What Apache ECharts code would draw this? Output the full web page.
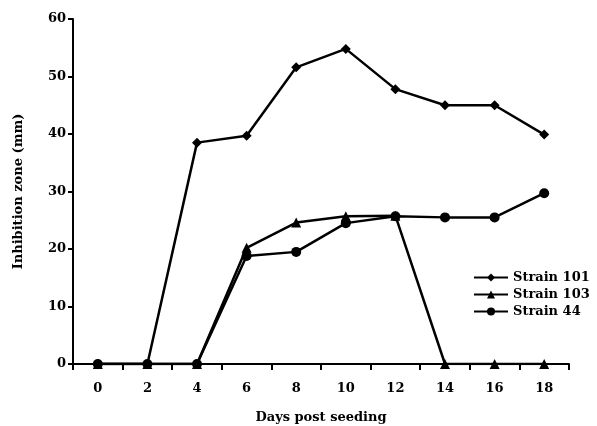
<!DOCTYPE html>
<html>
<head>
<meta charset="utf-8">
<script src="https://cdn.jsdelivr.net/npm/echarts@6/dist/echarts.min.js"></script>
<style>html,body{margin:0;padding:0;background:#fff;}#c{width:597px;height:426px;}</style>
</head>
<body>
<div id="c"></div>
<script>
var days = ['0','2','4','6','8','10','12','14','16','18'];
var strain101 = [0,0,38.5,39.7,51.6,54.8,47.8,45,45,39.9];
var strain103 = [0,0,0,20.2,24.6,25.7,25.8,0,0,0];
var strain44 = [0,0,0,18.8,19.5,24.5,25.7,25.5,25.5,29.7];
var yTicks = {min:0, max:60, interval:10};

var font = '"DejaVu Serif", "Liberation Serif", serif';
var chart = echarts.init(document.getElementById('c'));
function ser(name, data, sym, size){
  return {name:name, type:'line', data:data, symbol:sym, symbolSize:size,
    lineStyle:{color:'#000', width:2.5}, itemStyle:{color:'#000'}, showAllSymbol:true, animation:false};
}
chart.setOption({
  backgroundColor:'#fff',
  animation:false,
  grid:{left:73, right:28, top:19, bottom:62, containLabel:false, outerBoundsMode:'none'},
  legend:{orient:'vertical', left:468, top:266, itemWidth:34, itemHeight:10, itemGap:4,
    textStyle:{fontFamily:font, fontWeight:'bold', fontSize:13, color:'#000'},
    data:['Strain 101','Strain 103','Strain 44']},
  xAxis:{type:'category', data:days, boundaryGap:true,
    name:'Days post seeding', nameLocation:'middle', nameGap:47,
    nameTextStyle:{fontFamily:font, fontWeight:'bold', fontSize:13, color:'#000'},
    axisLine:{lineStyle:{color:'#000', width:2}},
    axisTick:{show:true, length:6, lineStyle:{color:'#000', width:2}},
    axisLabel:{fontFamily:font, fontWeight:'bold', fontSize:13, color:'#000', margin:18},
    splitLine:{show:false}},
  yAxis:{type:'value', min:yTicks.min, max:yTicks.max, interval:yTicks.interval,
    name:'Inhibition zone (mm)', nameLocation:'middle', nameGap:48, nameRotate:90,
    nameTextStyle:{fontFamily:font, fontWeight:'bold', fontSize:13, color:'#000'},
    axisLine:{show:true, lineStyle:{color:'#000', width:2}},
    axisTick:{show:true, length:5, lineStyle:{color:'#000', width:2}},
    axisLabel:{fontFamily:font, fontWeight:'bold', fontSize:13, color:'#000', margin:7},
    splitLine:{show:false}},
  series:[
    ser('Strain 101', strain101, 'diamond', 10),
    ser('Strain 103', strain103, 'triangle', 10),
    ser('Strain 44', strain44, 'circle', 10)
  ]
});
</script>
</body>
</html>
